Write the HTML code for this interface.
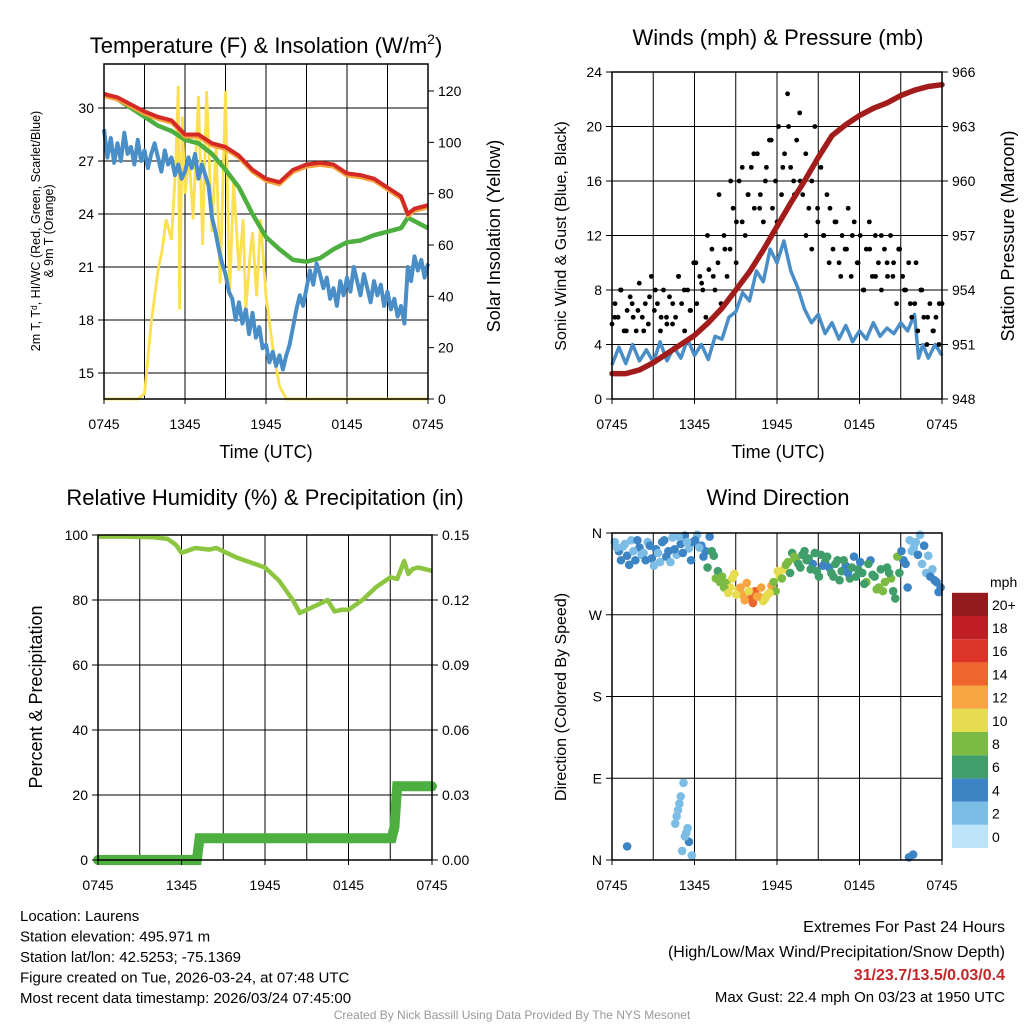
<!DOCTYPE html>
<html><head><meta charset="utf-8"><style>
body{margin:0;background:#fff;width:1024px;height:1024px;overflow:hidden}
svg{font-family:"Liberation Sans",sans-serif}
</style></head><body>
<svg id="s" width="1024" height="1024" viewBox="0 0 1024 1024"></svg>
<script>
// ---------- data (hours after 0745 UTC) ----------
const xTickLabels=["0745","1345","1945","0145","0745"];
const tempHours=[0,1,2,3,4,5,6,7,8,9,10,11,12,13,14,15,16,17,18,19,20,21,22,22.5,23,24];
const tempRed=[30.8,30.6,30.2,29.8,29.5,29.3,28.5,28.5,28.0,27.8,27.3,26.5,26.0,25.8,26.5,26.8,26.9,26.8,26.3,26.2,26.0,25.5,25.0,24.0,24.3,24.5];
const tempGreen=[30.8,30.5,30.0,29.5,29.0,28.7,28.2,28.0,27.4,26.5,25.5,24.0,22.7,22.0,21.4,21.3,21.5,22.0,22.4,22.5,22.8,23.0,23.2,23.8,23.6,23.2];
const dewHours=[0,0.25,0.5,0.75,1,1.25,1.5,1.75,2,2.25,2.5,2.75,3,3.25,3.5,3.75,4,4.25,4.5,4.75,5,5.25,5.5,5.75,6,6.25,6.5,6.75,7,7.25,7.5,7.75,8,8.25,8.5,8.75,9,9.25,9.5,9.75,10,10.25,10.5,10.75,11,11.25,11.5,11.75,12,12.25,12.5,12.75,13,13.25,13.5,13.75,14,14.25,14.5,14.75,15,15.25,15.5,15.75,16,16.25,16.5,16.75,17,17.25,17.5,17.75,18,18.25,18.5,18.75,19,19.25,19.5,19.75,20,20.25,20.5,20.75,21,21.25,21.5,21.75,22,22.25,22.5,22.75,23,23.25,23.5,23.75,24];
const dewBlue=[28.8,27.2,28.3,26.9,28.0,27.0,28.6,27.4,27.8,26.8,28.2,27.0,27.6,26.6,27.4,28.0,27.2,26.4,27.6,26.8,27.2,26.2,26.8,26.0,26.4,27.2,26.6,27.4,26.0,26.8,26.2,25.6,23.8,23.0,22.0,21.2,20.6,19.6,19.2,18.0,19.0,17.8,18.6,17.2,18.4,17.0,17.6,16.4,16.6,15.6,16.2,15.4,16.0,15.2,16.0,16.6,17.6,18.6,19.4,18.8,19.8,20.8,20.0,21.2,20.6,19.8,20.4,19.2,19.8,18.8,20.2,19.4,20.4,19.6,21.0,20.2,19.4,20.6,19.8,19.0,20.2,19.4,20.0,18.8,19.6,18.6,19.2,18.2,18.8,17.8,21.0,20.2,21.6,20.8,21.4,20.4,21.2,19.8,19.6];
const solarHours=[0,2.5,3,3.5,4,4.3,4.6,5,5.3,5.5,5.6,5.8,6,6.3,6.6,7,7.3,7.6,8,8.3,8.6,9,9.3,9.6,10,10.3,10.5,10.8,11,11.3,11.6,12,12.5,13,13.5,24];
const solar=[0,0,2,30,50,58,70,62,90,122,35,110,80,95,70,118,60,120,65,100,45,120,40,85,50,70,35,55,65,40,70,40,20,5,0,0];
const tempTicks=[15,18,21,24,27,30];
const solarTicks=[0,20,40,60,80,100,120];

const windHours=[0,0.5,1,1.5,2,2.5,3,3.5,4,4.5,5,5.5,6,6.5,7,7.5,8,8.5,9,9.5,10,10.5,11,11.5,12,12.5,13,13.5,14,14.5,15,15.5,16,16.5,17,17.5,18,18.5,19,19.5,20,20.5,21,21.5,22,22.3,22.6,23,23.5,24];
const windSpeed=[2.5,3.8,2.6,4.0,2.8,3.6,2.7,4.2,2.8,3.8,3.0,4.4,3.2,4.0,2.9,4.6,4.4,6.0,6.4,7.8,7.2,9.4,8.6,11.0,10.0,11.6,9.4,8.2,6.6,5.6,6.2,4.8,5.6,4.4,5.4,4.2,5.0,4.4,5.6,4.6,5.2,4.8,5.6,5.0,6.2,3.0,4.0,3.0,4.0,3.2];
const gusts=[5.5,7,6,8,5,6.5,7.5,6,5,8.5,6,7,5.5,9,6.5,7,5,8,6,7.5,5.5,6,9,7,5,8,6.5,10,7,9,8,6,9.5,11,8,10,7,12,9,11,14,10,16,13,12,15,17,14,18,15,13,17,19,14,16,20,15,18,22.4,17,16,19,21,15,18,14,16,20,13,17,12,15,14,11,13,10,12,11,14,9,13,10,12,8,11,13,9,12,10,8,11,9,12,10,7,11,9,8,10,6,7,5,8,6,4,7,5,6,4,7];
const gusts2=[6,8,5,7,6.5,5,7.5,8,6,5.5,7,9,8,6.5,10,8.5,12,9,15,11,16,13,17,15,18,14,16,19,13,17,20,15,16,12,11,14,12,10,13,9,11,12,10,8,11,9,12,10,9,11,8,7,10,8,6,5,7];
const pressHours=[0,1,2,3,4,5,6,7,8,9,10,11,12,13,14,15,16,17,18,19,20,21,22,23,24];
const pressure=[949.4,949.4,949.6,950.0,950.5,951.0,951.5,952.2,953.0,954.0,955.0,956.2,957.5,958.8,960.0,961.3,962.5,963.1,963.6,964.0,964.3,964.7,965.0,965.2,965.3];
const windTicks=[0,4,8,12,16,20,24];
const pressTicks=[948,951,954,957,960,963,966];

const rhHours=[0,2,4,5,5.6,6,7,8,8.5,9,10,11,12,13,14,14.5,15,16,16.5,17,17.5,18,19,20,21,21.5,22,22.3,22.6,23,24];
const rh=[99.5,99.5,99.3,98.8,97,94.5,96,95.5,96,95,93,91.5,90,86,80,76,77,79,80,76.5,77,77,80,84,87,86.5,92,88,89.5,90,89];
const precipHours=[0,7.1,7.3,21.1,21.3,21.5,24];
const precip=[0,0,0.01,0.01,0.015,0.034,0.034];
const rhTicks=[0,20,40,60,80,100];
const precipTicks=["0.00","0.03","0.06","0.09","0.12","0.15"];

const dirHours=[0.2,0.5,0.8,1.1,1.4,1.7,2,2.3,2.6,2.9,3.2,3.5,3.8,4.1,4.4,4.7,5,5.3,5.6,5.9,6.2,6.5,6.8,7.1,7.4,7.7,8,8.3,8.6,8.9,9.2,9.5,9.8,10.1,10.4,10.7,11,11.3,11.6,11.9,12.2,12.5,12.8,13.1,13.4,13.7,14,14.3,14.6,14.9,15.2,15.5,15.8,16.1,16.4,16.7,17,17.3,17.6,17.9,18.2,18.5,18.8,19.1,19.4,19.7,20,20.3,20.6,20.9,21.2,21.5,21.8,22.1,22.4,22.7,23,23.3,23.6,23.9,4.6,4.8,5.0,5.2,5.4,5.6,5.1,4.9,1.1,5.8,21.6,21.9,
 0.35,0.65,0.95,1.25,1.55,1.85,2.15,2.45,2.75,3.05,3.35,3.65,3.95,4.25,4.55,4.85,5.15,5.45,5.75,6.05,6.35,6.65,6.95,7.25,7.55,7.85,8.15,8.45,8.75,9.05,9.35,9.65,9.95,10.25,10.55,10.85,11.15,11.45,11.75,12.05,12.35,12.65,12.95,13.25,13.55,13.85,14.15,14.45,14.75,15.05,15.35,15.65,15.95,16.25,16.55,16.85,17.15,17.45,17.75,18.05,18.35,18.65,18.95,19.25,19.55,19.85,20.15,20.45,20.75,21.05,21.35,21.65,21.95,22.25,22.55,22.85,23.15,23.45,23.75,4.7,5.3,5.5];
const dirDeg=[350,340,345,335,352,330,344,338,350,332,342,328,352,340,355,336,348,357,343,350,358,346,340,356,335,318,312,305,300,315,298,292,305,288,296,290,285,292,302,296,312,320,328,338,330,322,340,332,326,318,336,328,322,312,330,318,324,310,334,320,316,306,330,312,300,296,322,310,288,316,330,300,340,350,358,346,335,320,306,300,40,55,70,85,30,20,10,62,15,5,3,6,
 344,330,348,325,340,352,336,330,346,324,338,350,334,328,342,356,338,350,330,352,344,334,322,340,310,306,300,294,310,292,300,286,296,283,290,300,288,294,306,318,310,325,316,334,326,336,330,320,338,312,324,334,316,326,308,330,316,322,312,328,304,326,314,298,320,306,316,296,334,340,326,352,344,336,326,316,312,308,295,48,26,35];
const dirSpeed=[2,3,2,4,2,3,4,2,2,3,4,2,3,4,2,2,3,4,2,3,2,4,4,3,6,6,8,7,10,9,10,11,12,13,14,12,10,9,11,8,10,10,7,6,7,6,5,6,4,5,6,5,4,6,5,6,4,5,4,6,5,7,4,6,8,7,6,7,6,5,4,3,2,2,2,3,2,2,3,4,2,2,1,2,2,3,1,2,3,2,4,4,
 2,3,2,4,2,3,2,4,3,2,2,3,4,2,3,2,4,2,3,4,2,4,5,6,7,8,8,9,10,10,12,11,10,13,12,11,9,10,8,9,7,8,6,7,6,5,6,5,6,5,4,6,5,6,6,5,4,5,6,4,5,6,6,7,6,8,5,6,7,4,3,2,2,3,2,2,4,4,4,2,1,2];
const cbLabels=["0","2","4","6","8","10","12","14","16","18","20+"];
const cbColors=["#bde4f8","#7cbde6","#3d84c4","#3f9e6a","#7cbb43","#e5dc50","#f6a541","#ef6530","#dd3429","#bf1e24","#931a1d"];

// ---------- helpers ----------
const NS="http://www.w3.org/2000/svg", S=document.getElementById('s');
function mk(tag,attrs,name,parent,txt){
  const el=document.createElementNS(NS,tag);
  for(const k in attrs) el.setAttribute(k,attrs[k]);
  
  
  if(txt!==undefined) el.textContent=txt;
  (parent||S).appendChild(el); return el;
}
function scale(d0,d1,r0,r1){return v=>r0+(v-d0)/(d1-d0)*(r1-r0);}
function linePath(xs,ys,sx,sy){return xs.map((h,i)=>(i?'L':'M')+sx(h).toFixed(1)+','+sy(ys[i]).toFixed(1)).join('');}
function frame(x0,x1,y0,y1,nameP,hGridVals,sy,vGrid){
  const g=mk('g',{},nameP+'-grid');
  hGridVals.forEach(v=>mk('line',{x1:x0,x2:x1,y1:sy(v),y2:sy(v),stroke:'#000','stroke-width':1},nameP+'-hgrid',g));
  const sx=scale(0,24,x0,x1);
  [3,6,9,12,15,18,21].forEach(h=>{ if(vGrid) mk('line',{x1:sx(h),x2:sx(h),y1:y0,y2:y1,stroke:'#000','stroke-width':1},nameP+'-vgrid',g);});
  return sx;
}
function box(x0,x1,y0,y1,n){mk('rect',{x:x0,y:y0,width:x1-x0,height:y1-y0,fill:'none',stroke:'#000','stroke-width':1.5},n);}
function xAxis(x0,x1,y1,n){
  const sx=scale(0,24,x0,x1);
  for(let h=0;h<=24;h+=6){ mk('line',{x1:sx(h),x2:sx(h),y1:y1,y2:y1+5,stroke:'#000'},n+'-xtick');}
  xTickLabels.forEach((t,i)=>mk('text',{x:sx(i*6),y:y1+30,'font-size':14,'text-anchor':'middle'},n+'-xtick-label',S,t));
}
function yTicks(vals,labels,sy,x,side,n){
  vals.forEach((v,i)=>{
    mk('line',{x1:x,x2:x+(side<0?-6:6),y1:sy(v),y2:sy(v),stroke:'#000'},n+'-tick');
    mk('text',{x:x+(side<0?-10:10),y:sy(v)+5,'font-size':14,'text-anchor':side<0?'end':'start'},n+'-tick-label',S,labels[i]);
  });
}

// ---------- Panel 1: temperature ----------
{
  const x0=104,x1=428,y0=64,y1=399;
  const sy=scale(15,30,373,108), ss=scale(0,120,399,91);
  const sx=frame(x0,x1,y0,y1,'temp',tempTicks,sy,true);
  mk('path',{d:linePath(solarHours,solar,sx,ss),fill:'none',stroke:'#fbe04f','stroke-width':2.8},'solar-line');
  mk('path',{d:linePath(dewHours,dewBlue,sx,sy),fill:'none',stroke:'#4a8ec8','stroke-width':4,'stroke-linejoin':'round'},'dewpoint-line');
  mk('path',{d:linePath(tempHours,tempGreen,sx,sy),fill:'none',stroke:'#4caf3f','stroke-width':4.5,'stroke-linejoin':'round'},'heat-index-line');
  mk('path',{d:linePath(tempHours,tempRed.map(v=>v-0.15),sx,sy),fill:'none',stroke:'#f5a33a','stroke-width':3},'temp-9m-line');
  mk('path',{d:linePath(tempHours,tempRed,sx,sy),fill:'none',stroke:'#d42a26','stroke-width':4,'stroke-linejoin':'round'},'temp-2m-line');
  box(x0,x1,y0,y1,'temp-plot-frame');
  yTicks(tempTicks,tempTicks.map(String),sy,x0,-1,'temp-y');
  yTicks(solarTicks,solarTicks.map(String),ss,x1,1,'solar-y');
  xAxis(x0,x1,y1,'temp-x');
  const t=mk('text',{x:266,y:53,'font-size':22,'text-anchor':'middle'},'temp-title',S,'Temperature (F) & Insolation (W/m');
  mk('tspan',{dy:-9,'font-size':14},'temp-title-sup',t,'2');
  mk('tspan',{dy:9},'temp-title-end',t,')');
  mk('text',{x:266,y:458,'font-size':18,'text-anchor':'middle'},'temp-x-title',S,'Time (UTC)');
  const yl=mk('text',{transform:'translate(40,231) rotate(-90)','font-size':12.5,'text-anchor':'middle'},'temp-y-title',S);
  mk('tspan',{x:0,y:0},'temp-y-title-line1',yl,'2m T, T\u1d48, HI/WC (Red, Green, Scarlet/Blue)');
  mk('tspan',{x:0,y:13},'temp-y-title-line2',yl,'& 9m T (Orange)');
  mk('text',{transform:'translate(500,236) rotate(-90)','font-size':18,'text-anchor':'middle'},'solar-y-title',S,'Solar Insolation (Yellow)');
}
// ---------- Panel 2: winds ----------
{
  const x0=612,x1=942,y0=72,y1=399;
  const sy=scale(0,24,399,72), sp=scale(948,966,399,72);
  const sx=frame(x0,x1,y0,y1,'wind',windTicks,sy,true);
  mk('path',{d:linePath(windHours,windSpeed,sx,sy),fill:'none',stroke:'#4a8ec8','stroke-width':3.5,'stroke-linejoin':'round'},'sonic-wind-line');
  gusts.forEach((g,i)=>{mk('circle',{cx:sx(i*24/(gusts.length-1)),cy:sy(g),r:2.4,fill:'#000'},'gust-point');});
  gusts2.forEach((g,i)=>{mk('circle',{cx:sx(0.2+i*23.6/(gusts2.length-1)),cy:sy(g),r:2.4,fill:'#000'},'gust-point');});
  mk('path',{d:linePath(pressHours,pressure,sx,sp),fill:'none',stroke:'#a31c1c','stroke-width':5.5,'stroke-linecap':'round','stroke-linejoin':'round'},'pressure-line');
  box(x0,x1,y0,y1,'wind-plot-frame');
  yTicks(windTicks,windTicks.map(String),sy,x0,-1,'wind-y');
  yTicks(pressTicks,pressTicks.map(String),sp,x1,1,'pressure-y');
  xAxis(x0,x1,y1,'wind-x');
  mk('text',{x:778,y:45,'font-size':22,'text-anchor':'middle'},'wind-title',S,'Winds (mph) & Pressure (mb)');
  mk('text',{x:778,y:458,'font-size':18,'text-anchor':'middle'},'wind-x-title',S,'Time (UTC)');
  mk('text',{transform:'translate(566,236) rotate(-90)','font-size':16,'text-anchor':'middle'},'wind-y-title',S,'Sonic Wind & Gust (Blue, Black)');
  mk('text',{transform:'translate(1014,236) rotate(-90)','font-size':18,'text-anchor':'middle'},'pressure-y-title',S,'Station Pressure (Maroon)');
}
// ---------- Panel 3: RH ----------
{
  const x0=98,x1=432,y0=535,y1=860;
  const sy=scale(0,100,860,535), sp=scale(0,0.15,860,535);
  const sx=frame(x0,x1,y0,y1,'rh',rhTicks,sy,true);
  mk('path',{d:linePath(precipHours,precip,sx,sp),fill:'none',stroke:'#4caf3f','stroke-width':10,'stroke-linecap':'round'},'precip-line');
  mk('path',{d:linePath(rhHours,rh,sx,sy),fill:'none',stroke:'#8cc640','stroke-width':4.5,'stroke-linejoin':'round'},'rh-line');
  box(x0,x1,y0,y1,'rh-plot-frame');
  yTicks(rhTicks,rhTicks.map(String),sy,x0,-1,'rh-y');
  yTicks(precipTicks.map(Number),precipTicks,sp,x1,1,'precip-y');
  xAxis(x0,x1,y1,'rh-x');
  mk('text',{x:265,y:505,'font-size':22,'text-anchor':'middle'},'rh-title',S,'Relative Humidity (%) & Precipitation (in)');
  mk('text',{transform:'translate(42,697) rotate(-90)','font-size':18,'text-anchor':'middle'},'rh-y-title',S,'Percent & Precipitation');
}
// ---------- Panel 4: wind direction ----------
{
  const x0=612,x1=942,y0=533,y1=860;
  const sy=scale(0,360,860,533);
  const sx=frame(x0,x1,y0,y1,'dir',[0,90,180,270,360],sy,true);
  function col(s){return cbColors[Math.min(10,Math.floor(s/2+0.5))];}
  dirHours.forEach((h,i)=>{mk('circle',{cx:sx(h),cy:sy(dirDeg[i]),r:4.3,fill:col(dirSpeed[i])},'direction-point');});
  box(x0,x1,y0,y1,'dir-plot-frame');
  yTicks([0,90,180,270,360],["N","E","S","W","N"],sy,x0,-1,'dir-y');
  xAxis(x0,x1,y1,'dir-x');
  mk('text',{x:778,y:505,'font-size':22,'text-anchor':'middle'},'dir-title',S,'Wind Direction');
  mk('text',{transform:'translate(566,697) rotate(-90)','font-size':16,'text-anchor':'middle'},'dir-y-title',S,'Direction (Colored By Speed)');
  mk('text',{x:990,y:587,'font-size':14},'colorbar-title',S,'mph');
  const cb=mk('g',{},'speed-colorbar');
  cbColors.forEach((c,i)=>{const yy=848-(i+1)*23.2; mk('rect',{x:952,y:yy,width:36,height:23.2,fill:c},'colorbar-box',cb);
    mk('text',{x:992,y:yy+17,'font-size':14},'colorbar-label',cb,cbLabels[i]);});
}
// ---------- footer ----------
const ft=["Location: Laurens","Station elevation: 495.971 m","Station lat/lon: 42.5253; -75.1369","Figure created on Tue, 2026-03-24, at 07:48 UTC","Most recent data timestamp: 2026/03/24 07:45:00"];
ft.forEach((t,i)=>mk('text',{x:20,y:921+i*20.5,'font-size':15},'station-info-line',S,t));
mk('text',{x:1005,y:932,'font-size':16,'text-anchor':'end'},'extremes-title',S,'Extremes For Past 24 Hours');
mk('text',{x:1005,y:957,'font-size':16,'text-anchor':'end'},'extremes-legend',S,'(High/Low/Max Wind/Precipitation/Snow Depth)');
mk('text',{x:1005,y:980,'font-size':16,'text-anchor':'end','font-weight':'bold',fill:'#c3272b'},'extremes-values',S,'31/23.7/13.5/0.03/0.4');
mk('text',{x:1005,y:1002,'font-size':15,'text-anchor':'end'},'max-gust',S,'Max Gust: 22.4 mph On 03/23 at 1950 UTC');
mk('text',{x:512,y:1019,'font-size':12,'text-anchor':'middle',fill:'#999'},'credit',S,'Created By Nick Bassill Using Data Provided By The NYS Mesonet');
</script>
</body></html>
